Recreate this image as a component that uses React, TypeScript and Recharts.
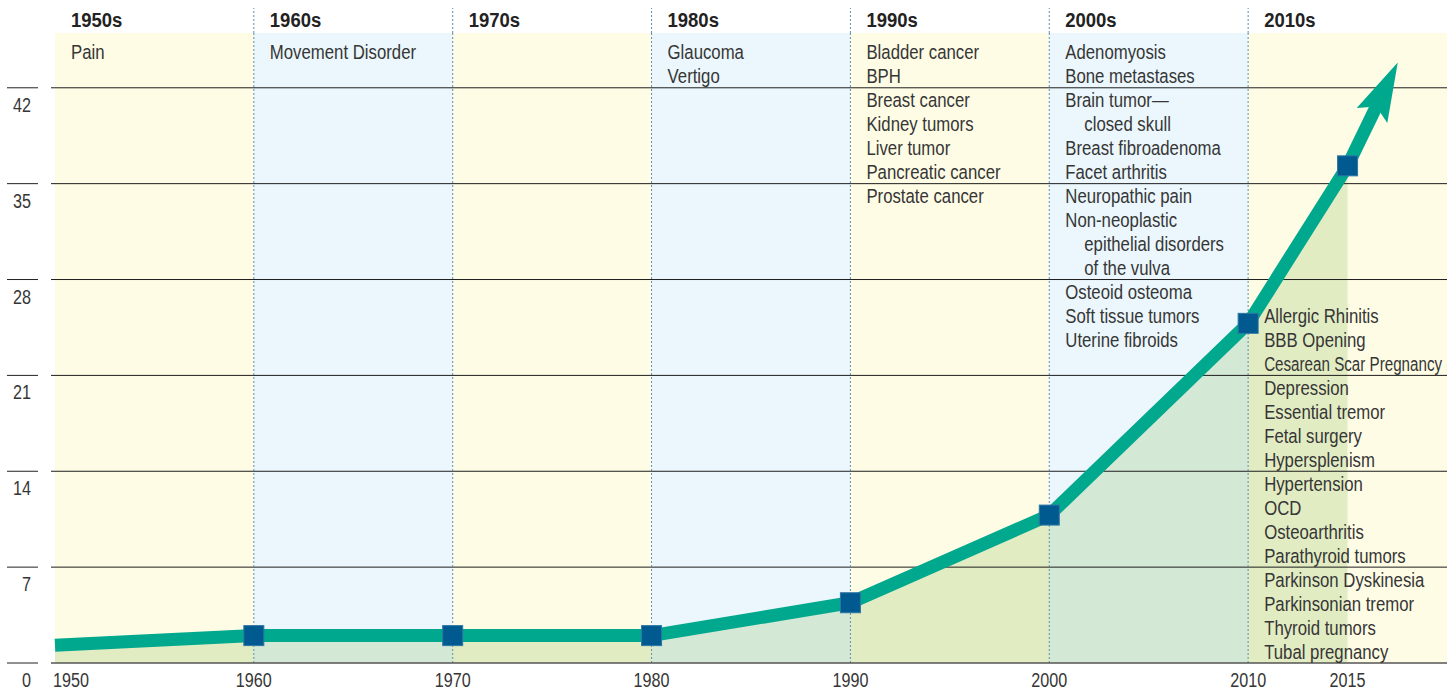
import React from 'react';
import {
  ComposedChart,
  Area,
  Line,
  XAxis,
  YAxis,
  ReferenceArea,
  ReferenceLine,
  ReferenceDot,
} from 'recharts';

// ---- data ----
const years = [1950, 1960, 1970, 1980, 1990, 2000, 2010, 2015];
const counts = [1.3, 2, 2, 2, 4.4, 10.8, 24.8, 36.3];
const arrowYear = 2016.47;
const arrowCount = 40.7;

const xTicks = [1950, 1960, 1970, 1980, 1990, 2000, 2010, 2015];
const yTicks = [0, 7, 14, 21, 28, 35, 42];

const decades = [1950, 1960, 1970, 1980, 1990, 2000, 2010];
const decadeEnds = [1960, 1970, 1980, 1990, 2000, 2010, 2020];
const decadeLabels = ['1950s', '1960s', '1970s', '1980s', '1990s', '2000s', '2010s'];
const decadeItems: string[][] = [
  ['Pain'],
  ['Movement Disorder'],
  [],
  ['Glaucoma', 'Vertigo'],
  ['Bladder cancer', 'BPH', 'Breast cancer', 'Kidney tumors', 'Liver tumor', 'Pancreatic cancer', 'Prostate cancer'],
  [
    'Adenomyosis',
    'Bone metastases',
    'Brain tumor\u2014',
    '>closed skull',
    'Breast fibroadenoma',
    'Facet arthritis',
    'Neuropathic pain',
    'Non-neoplastic',
    '>epithelial disorders',
    '>of the vulva',
    'Osteoid osteoma',
    'Soft tissue tumors',
    'Uterine fibroids',
  ],
  [
    'Allergic Rhinitis',
    'BBB Opening',
    'Cesarean Scar Pregnancy',
    'Depression',
    'Essential tremor',
    'Fetal surgery',
    'Hypersplenism',
    'Hypertension',
    'OCD',
    'Osteoarthritis',
    'Parathyroid tumors',
    'Parkinson Dyskinesia',
    'Parkinsonian tremor',
    'Thyroid tumors',
    'Tubal pregnancy',
  ],
];

// ---- styles ----
const FONT = "'Liberation Sans', Arial, sans-serif";
const TEXT = '#363636';
const YELLOW = '#FEFCE5';
const BLUE = '#EBF7FC';
const TEAL = '#00A88E';
const MARKER = '#005A8F';
const DOTTED = '#5A90B5';
const itemStartRow = [0, 0, 0, 0, 0, 0, 11];
const ITEM_SCALE = 0.86;
const MAX_ITEM_WIDTH = 176;

const data = [
  ...years.map((y, i) => ({ year: y, count: counts[i], fill: counts[i] })),
  { year: arrowYear, count: arrowCount },
];

// condensed text: real SVG text, horizontally narrowed
const CText = (props: any) => {
  const { x, y, sx, children, ...rest } = props;
  return (
    <text transform={`translate(${x},${y}) scale(${sx},1)`} x={0} y={0} fontFamily={FONT} {...rest}>
      {children}
    </text>
  );
};

const BottomTick = (p: any) => {
  const { x, y, payload, index } = p;
  const first = index === 0;
  return (
    <CText
      x={first ? x - 2 : x}
      y={y + 24}
      sx={0.83}
      textAnchor={first ? 'start' : 'middle'}
      fontSize={19.5}
      fill={TEXT}
    >
      {payload.value}
    </CText>
  );
};

const TopTick = (p: any) => {
  const { x, y, index } = p;
  return (
    <g>
      {index > 0 && (
        <line x1={x} x2={x} y1={y} y2={y - 25} stroke={DOTTED} strokeDasharray="2 2" strokeWidth={1} />
      )}
      <CText x={x + 16} y={y - 6} sx={0.88} fontWeight="bold" fontSize={21} fill="#222">
        {decadeLabels[index]}
      </CText>
    </g>
  );
};

const LeftTick = (p: any) => {
  const { x, y, payload } = p;
  return (
    <g>
      <line x1={x - 44} x2={x - 13} y1={y} y2={y} stroke="#222" strokeWidth={1} />
      <CText x={x - 20} y={y + 24} sx={0.83} textAnchor="end" fontSize={19.5} fill={TEXT}>
        {payload.value}
      </CText>
    </g>
  );
};

// rough width estimate (Liberation Sans, em units per char) to keep long labels inside the band
const estWidth = (t: string, size: number) => {
  let w = 0;
  for (const ch of t) {
    if (ch === ' ') w += 0.278;
    else if ('ijl'.includes(ch)) w += 0.222;
    else if ('frt'.includes(ch)) w += 0.3;
    else if (ch >= 'A' && ch <= 'Z') w += 0.68;
    else w += 0.54;
  }
  return w * size;
};

const makeItemsShape = (di: number) => (p: any) => {
  const { cx, cy } = p;
  if (cx == null || cy == null) return <g />;
  return (
    <g>
      {decadeItems[di].map((t, i) => {
        const indent = t.startsWith('>');
        const label = indent ? t.slice(1) : t;
        const row = itemStartRow[di] + i;
        const w = estWidth(label, 19.5) * ITEM_SCALE;
        const sx = di === decades.length - 1 && w > MAX_ITEM_WIDTH ? (ITEM_SCALE * MAX_ITEM_WIDTH) / w : ITEM_SCALE;
        return (
          <CText
            key={i}
            x={cx + 16 + (indent ? 19 : 0)}
            y={cy + 26 + row * 24}
            sx={Math.min(sx, ITEM_SCALE)}
            fontSize={19.5}
            fill={TEXT}
          >
            {label}
          </CText>
        );
      })}
    </g>
  );
};

const makeDot = () => {
  let prev: { x: number; y: number } | null = null;
  return (p: any) => {
    const { cx, cy, index } = p;
    const key = `dot-${index}`;
    if (cx == null || cy == null) return <g key={key} />;
    let out: React.ReactElement = <g key={key} />;
    if (index === data.length - 1 && prev) {
      const dx = cx - prev.x;
      const dy = cy - prev.y;
      const len = Math.sqrt(dx * dx + dy * dy) || 1;
      const ux = dx / len;
      const uy = dy / len;
      const vx = -uy;
      const vy = ux;
      const tip = [cx + 48 * ux, cy + 48 * uy];
      const w1 = [cx - 11 * ux + 17 * vx, cy - 11 * uy + 17 * vy];
      const w2 = [cx - 11 * ux - 17 * vx, cy - 11 * uy - 17 * vy];
      const notch = [cx - 1 * ux, cy - 1 * uy];
      out = (
        <polygon
          key={key}
          points={`${tip[0]},${tip[1]} ${w1[0]},${w1[1]} ${notch[0]},${notch[1]} ${w2[0]},${w2[1]}`}
          fill={TEAL}
        />
      );
    } else if (index > 0) {
      out = (
        <rect key={key} x={cx - 10} y={cy - 10} width={20} height={20} fill={MARKER} stroke="#2F76A6" strokeWidth={1} />
      );
    }
    prev = { x: cx, y: cy };
    return out;
  };
};

export default function App() {
  const dot = makeDot();
  return (
    <div style={{ position: 'absolute', left: 0, top: 0, width: 1456, height: 692, background: '#fff' }}>
      <ComposedChart
        width={1456}
        height={692}
        data={data}
        margin={{ top: 0, right: 9, bottom: 0, left: 0 }}
        style={{ fontFamily: FONT }}
      >
        <XAxis
          xAxisId="main"
          dataKey="year"
          type="number"
          domain={[1949.8, 2020]}
          allowDataOverflow
          ticks={xTicks}
          interval={0}
          height={29}
          tickSize={0}
          tickMargin={0}
          tickLine={false}
          axisLine={{ stroke: '#555', strokeWidth: 1.5 }}
          tick={<BottomTick />}
        />
        <XAxis
          xAxisId="top"
          orientation="top"
          dataKey="year"
          type="number"
          domain={[1949.8, 2020]}
          allowDataOverflow
          ticks={decades}
          interval={0}
          height={33}
          tickSize={0}
          tickMargin={0}
          tickLine={false}
          axisLine={false}
          tick={<TopTick />}
        />
        <YAxis
          type="number"
          domain={[0, 46]}
          allowDataOverflow
          ticks={yTicks}
          interval={0}
          width={51}
          tickSize={0}
          tickMargin={0}
          tickLine={false}
          axisLine={false}
          tick={<LeftTick />}
        />
        {decades.map((d, i) => (
          <ReferenceArea
            key={`band-${d}`}
            xAxisId="main"
            x1={d}
            x2={decadeEnds[i]}
            y1={0}
            y2={46}
            fill={i % 2 === 0 ? YELLOW : BLUE}
            fillOpacity={1}
            stroke="none"
            ifOverflow="visible"
          />
        ))}
        <Area
          xAxisId="main"
          dataKey="fill"
          type="linear"
          fill="#7EB54F"
          fillOpacity={0.22}
          stroke="none"
          isAnimationActive={false}
          connectNulls={false}
          dot={false}
          activeDot={false}
        />
        {yTicks
          .filter((t) => t > 0)
          .map((t) => (
            <ReferenceLine key={`h-${t}`} xAxisId="main" y={t} stroke="#1e1e1e" strokeWidth={1} />
          ))}
        {decades
          .filter((d, i) => i > 0)
          .map((d) => (
            <ReferenceLine key={`v-${d}`} xAxisId="main" x={d} stroke={DOTTED} strokeDasharray="2 2" strokeWidth={1} />
          ))}
        {decades.map((d, i) => (
          <ReferenceDot
            key={`items-${d}`}
            xAxisId="main"
            x={d}
            y={46}
            r={0}
            ifOverflow="visible"
            shape={makeItemsShape(i)}
          />
        ))}
        <Line
          xAxisId="main"
          dataKey="count"
          type="linear"
          stroke={TEAL}
          strokeWidth={13}
          dot={dot}
          activeDot={false}
          isAnimationActive={false}
        />
      </ComposedChart>
    </div>
  );
}
